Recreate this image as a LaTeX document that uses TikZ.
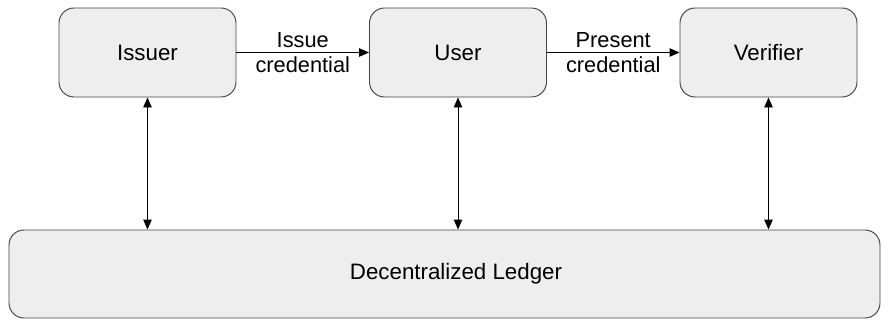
\documentclass[tikz,border=0pt]{standalone}
\usepackage{fontspec}
\setmainfont{Liberation Sans}
\usetikzlibrary{arrows.meta}
\definecolor{boxfill}{RGB}{238, 238, 238}
\definecolor{boxline}{RGB}{70, 70, 70}

\begin{document}
\begin{tikzpicture}[
    party/.style={draw=boxline, fill=boxfill, rounded corners=0.3cm, line width=0.55pt,
        minimum width=3.54cm, minimum height=1.78cm, font=\fontsize{12.7}{14}\selectfont},
    link/.style={line width=0.55pt, -{Triangle[length=0.2cm, width=0.17cm]}},
    sync/.style={line width=0.55pt, {Triangle[length=0.2cm, width=0.17cm]}-{Triangle[length=0.2cm, width=0.17cm]}},
    lbl/.style={align=center, font=\fontsize{12.4}{14}\selectfont}
]
    \useasboundingbox (0,0) rectangle (17.78,6.4);

    % Parties
    \node[party] (issuer) at (2.95, 5.35) {Issuer};
    \node[party] (user) at (9.16, 5.35) {User};
    \node[party] (verifier) at (15.37, 5.35) {Verifier};

    % Ledger
    \node[party, minimum width=17.42cm, minimum height=1.76cm] (ledger) at (8.89, 0.92) {\hspace*{0.46cm}Decentralized Ledger};

    % Credential flow
    \draw[link] (issuer) -- node[lbl] (issuelbl) {Issue\\credential} (user);
    \draw[link] (user) -- node[lbl] (presentlbl) {Present\\credential} (verifier);

    % Ledger access
    \draw[sync] (issuer.south) -- (issuer.south |- ledger.north);
    \draw[sync] (user.south) -- (user.south |- ledger.north);
    \draw[sync] (verifier.south) -- (verifier.south |- ledger.north);
\end{tikzpicture}
\end{document}
